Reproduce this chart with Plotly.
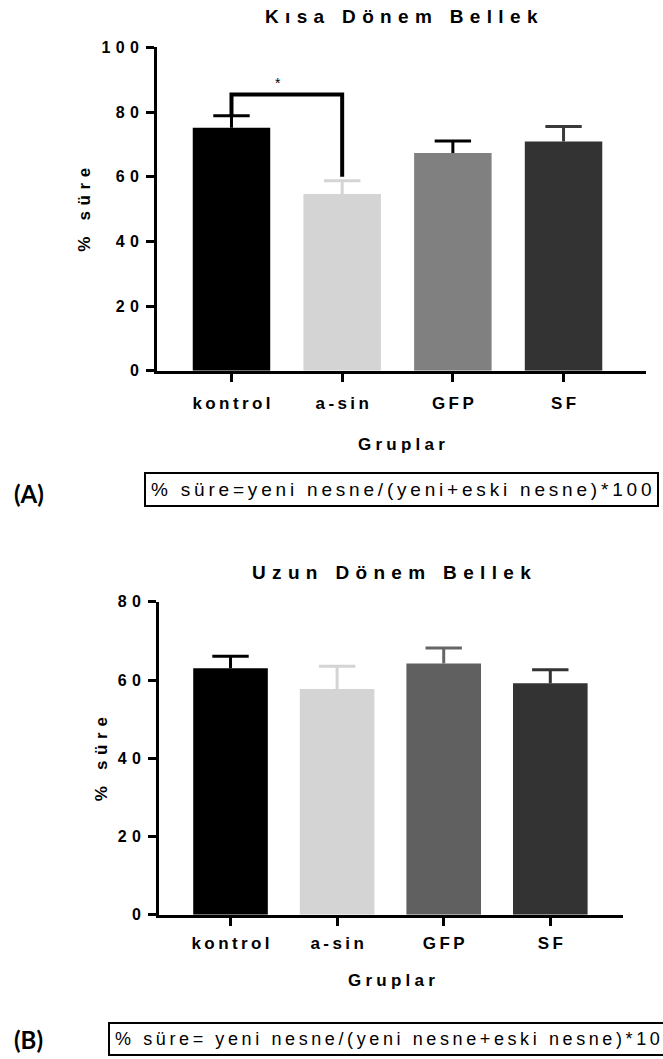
import plotly.graph_objects as go

# ---------------- data ----------------
categories = ["kontrol", "a-sin", "GFP", "SF"]

short_mean = [75.2, 54.7, 67.4, 70.9]
short_err = [3.7, 4.1, 3.7, 4.7]
short_bar_colors = ["#000000", "#d4d4d4", "#808080", "#333333"]
short_err_colors = ["#000000", "#d4d4d4", "#000000", "#3a3a3a"]
short_yticks = [0, 20, 40, 60, 80, 100]

long_mean = [63.0, 57.7, 64.2, 59.2]
long_err = [3.1, 5.8, 4.0, 3.4]
long_bar_colors = ["#000000", "#d4d4d4", "#606060", "#333333"]
long_err_colors = ["#000000", "#d4d4d4", "#666666", "#333333"]
long_yticks = [0, 20, 40, 60, 80]

sig_x = ["kontrol", "kontrol", "a-sin", "a-sin"]
sig_y = [78.9, 85.5, 85.5, 60.0]
sig_label = "*"

title_short = "Kısa Dönem Bellek"
title_long = "Uzun Dönem Bellek"
y_title = "% süre"
x_title = "Gruplar"
formula_a = "% süre=yeni nesne/(yeni+eski nesne)*100"
formula_b = "% süre= yeni nesne/(yeni nesne+eski nesne)*100"

# ---------------- helpers ----------------
W, H = 663, 1059
FONT = "Liberation Sans, Arial, Helvetica, sans-serif"
NARROW = "Liberation Sans Narrow, Arial Narrow, Liberation Sans, Arial, sans-serif"

# vertical calibration of the capture (page is photographed slightly squeezed)
Y_OFF, Y_SCALE = 8.2, 0.984


def px_x(p):
    return p / W


def px_y(p):
    return 1 - ((p - Y_OFF) / Y_SCALE) / H


def spaced(s, sep="\u2009"):
    return sep.join(list(s))


fig = go.Figure()

panels = [
    dict(xa="x", ya="y", mean=short_mean, err=short_err, bc=short_bar_colors,
         ec=short_err_colors),
    dict(xa="x2", ya="y2", mean=long_mean, err=long_err, bc=long_bar_colors,
         ec=long_err_colors),
]

for p in panels:
    fig.add_trace(go.Bar(
        x=categories, y=p["mean"], width=0.7,
        marker=dict(color=p["bc"], line=dict(width=0)),
        xaxis=p["xa"], yaxis=p["ya"], showlegend=False, hoverinfo="skip",
    ))
    for i, c in enumerate(categories):
        top = p["mean"][i] + p["err"][i]
        fig.add_trace(go.Scatter(
            x=[c], y=[top], mode="markers",
            marker=dict(symbol="line-ew", size=26,
                        line=dict(width=3, color=p["ec"][i])),
            error_y=dict(type="data", symmetric=False, array=[0],
                         arrayminus=[p["err"][i]], width=0, thickness=3,
                         color=p["ec"][i]),
            xaxis=p["xa"], yaxis=p["ya"], showlegend=False, hoverinfo="skip",
        ))

# significance bracket
fig.add_trace(go.Scatter(
    x=sig_x, y=sig_y, mode="lines",
    line=dict(color="black", width=4),
    xaxis="x", yaxis="y", showlegend=False, hoverinfo="skip",
))

axis_line = dict(showline=True, linecolor="black", linewidth=3, ticks="outside",
                 ticklen=8, tickwidth=3, tickcolor="black", showgrid=False,
                 zeroline=False, fixedrange=True)

tick_font = dict(family=FONT, size=16, color="black", weight="bold")
cat_font = dict(family=FONT, size=17, color="black", weight="bold")

fig.update_layout(
    width=W, height=H,
    margin=dict(l=0, r=0, t=0, b=0),
    paper_bgcolor="white", plot_bgcolor="white",
    bargap=0.3,
    xaxis=dict(domain=[px_x(157), px_x(646)], range=[-0.673, 3.745],
               anchor="y", type="category",
               tickvals=categories,
               ticktext=[spaced(c) for c in categories],
               tickfont=cat_font, ticklabelstandoff=7, **axis_line),
    yaxis=dict(domain=[px_y(371), px_y(47.7)], range=[0, 100], anchor="x",
               tickvals=short_yticks,
               ticktext=[spaced(str(v), "\u2004") for v in short_yticks],
               tickfont=tick_font, ticklabelstandoff=4, **axis_line),
    xaxis2=dict(domain=[px_x(159), px_x(623)], range=[-0.671, 3.682],
                anchor="y2", type="category",
                tickvals=categories,
                ticktext=[spaced(c) for c in categories],
                tickfont=cat_font, ticklabelstandoff=3, **axis_line),
    yaxis2=dict(domain=[px_y(915), px_y(602)], range=[0, 80], anchor="x2",
                tickvals=long_yticks,
                ticktext=[spaced(str(v), "\u2004") for v in long_yticks],
                tickfont=tick_font, ticklabelstandoff=4, **axis_line),
)

ann = []


def text_ann(text, x, y, size, weight="bold", family=FONT, angle=0, **kw):
    d = dict(text=text, x=x, y=y, xref="paper", yref="paper", showarrow=False,
             font=dict(family=family, size=size, color="black", weight=weight),
             textangle=angle, xanchor="center", yanchor="middle")
    d.update(kw)
    return d


ann.append(text_ann(spaced(title_short, "\u2004"), px_x(401), px_y(17), 19))
ann.append(text_ann(spaced(title_long, "\u2004"), px_x(391), px_y(573), 19))
ann.append(text_ann(spaced(y_title, "\u2004"), px_x(85), px_y(210), 17, angle=-90))
ann.append(text_ann(spaced(y_title, "\u2004"), px_x(101.5), px_y(760), 17, angle=-90))
ann.append(text_ann(spaced(x_title, "\u2005"), px_x(401), px_y(445), 17))
ann.append(text_ann(spaced(x_title, "\u2005"), px_x(391), px_y(981), 17))
ann.append(text_ann("(A)", px_x(29), px_y(494), 24, family="Lato, Open Sans, sans-serif"))
ann.append(text_ann("(B)", px_x(29), px_y(1040), 24, family="Lato, Open Sans, sans-serif"))
ann.append(text_ann(spaced(formula_a), px_x(401), px_y(490), 19, weight="normal",
                    family=NARROW, bordercolor="black", borderwidth=2,
                    borderpad=5, bgcolor="white"))
ann.append(text_ann(spaced(formula_b), px_x(108), px_y(1039), 18, weight="normal",
                    family=NARROW, bordercolor="black", borderwidth=2,
                    borderpad=5, bgcolor="white", xanchor="left"))
# asterisk on the significance bracket
ann.append(dict(text=sig_label, x=0.42, y=89, xref="x", yref="y", showarrow=False,
                font=dict(family=FONT, size=14, color="black"),
                xanchor="center", yanchor="middle"))

fig.update_layout(annotations=ann)

page_fix = (
    "document.documentElement.style.margin='0';"
    "document.documentElement.style.overflow='hidden';"
    "document.body.style.margin='0';"
    "document.body.style.overflow='hidden';"
)

fig.write_html("out.html", config={"displayModeBar": False}, post_script=page_fix)
